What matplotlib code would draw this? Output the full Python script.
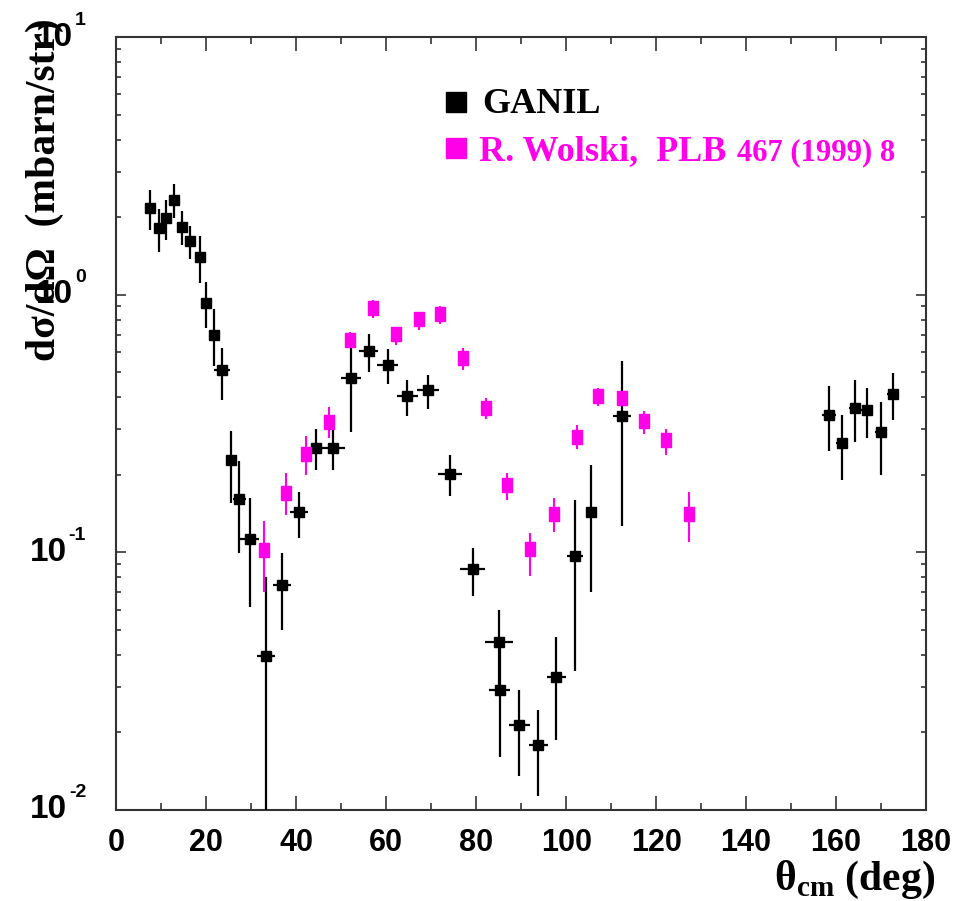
import matplotlib
matplotlib.use("Agg")
import matplotlib.pyplot as plt
import numpy as np
from matplotlib.ticker import FixedLocator, LogLocator, NullFormatter

MAGENTA = "#ff00e8"
SERIF = "Liberation Serif"
NARROW = ["Liberation Sans Narrow", "Liberation Sans"]

plt.rcParams["mathtext.fontset"] = "custom"
plt.rcParams["mathtext.rm"] = "Liberation Serif:bold"

# GANIL data (theta_cm in deg, dsigma/dOmega in mbarn/str)
ganil_theta = [7.5, 9.4, 11.1, 12.9, 14.6, 16.3, 18.5, 20.0, 21.6, 23.5,
               25.5, 27.3, 29.6, 33.3, 36.9, 40.6, 44.4, 48.2, 52.2, 56.1,
               60.3, 64.7, 69.3, 74.1, 79.2, 85.0, 85.2, 89.6, 93.8, 97.8,
               101.9, 105.5, 112.4, 158.4, 161.3, 164.2, 166.9, 169.9, 172.7]
ganil_dtheta = [0.8, 0.8, 0.8, 0.8, 0.8, 0.8, 0.8, 0.8, 0.8, 1.8,
                1.0, 1.5, 2.1, 2.0, 2.0, 2.0, 1.5, 2.7, 2.2, 2.1,
                2.3, 2.3, 2.4, 2.7, 2.8, 3.1, 2.4, 2.3, 2.1, 2.1,
                1.8, 1.0, 1.9, 1.6, 1.4, 1.3, 1.3, 1.3, 1.3]
ganil_xs = [2.17, 1.82, 1.99, 2.33, 1.83, 1.61, 1.40, 0.93, 0.70, 0.51,
            0.229, 0.161, 0.113, 0.0397, 0.075, 0.143, 0.254, 0.254, 0.473, 0.604,
            0.533, 0.404, 0.425, 0.202, 0.0862, 0.0447, 0.0293, 0.0214, 0.0179, 0.0327,
            0.0965, 0.143, 0.337, 0.341, 0.266, 0.363, 0.356, 0.293, 0.412]
ganil_lo = [1.78, 1.47, 1.63, 1.98, 1.56, 1.38, 1.11, 0.74, 0.53, 0.39,
            0.156, 0.099, 0.0615, 0.005, 0.050, 0.114, 0.208, 0.208, 0.294, 0.500,
            0.451, 0.338, 0.361, 0.166, 0.0679, 0.0293, 0.0160, 0.0135, 0.0113, 0.0187,
            0.0347, 0.0701, 0.126, 0.247, 0.191, 0.269, 0.278, 0.200, 0.325]
ganil_hi = [2.54, 2.15, 2.33, 2.69, 2.11, 1.84, 1.69, 1.12, 0.88, 0.62,
            0.297, 0.226, 0.162, 0.080, 0.099, 0.171, 0.302, 0.302, 0.624, 0.701,
            0.613, 0.465, 0.487, 0.238, 0.104, 0.0599, 0.0447, 0.0291, 0.0245, 0.0471,
            0.160, 0.218, 0.552, 0.442, 0.341, 0.465, 0.433, 0.384, 0.498]

# R. Wolski, PLB 467 (1999) 8
wolski_theta = [32.8, 37.8, 42.2, 47.3, 52.0, 57.1, 62.1, 67.3, 72.0, 77.1,
                82.2, 86.9, 92.0, 97.2, 102.3, 107.0, 112.4, 117.4, 122.2, 127.3]
wolski_xs = [0.102, 0.170, 0.240, 0.321, 0.665, 0.891, 0.701, 0.802, 0.844, 0.567,
             0.364, 0.182, 0.103, 0.141, 0.281, 0.403, 0.396, 0.322, 0.272, 0.141]
wolski_lo = [0.070, 0.140, 0.200, 0.278, 0.624, 0.809, 0.636, 0.729, 0.767, 0.509,
             0.330, 0.160, 0.081, 0.120, 0.251, 0.371, 0.371, 0.287, 0.238, 0.110]
wolski_hi = [0.132, 0.203, 0.282, 0.367, 0.714, 0.953, 0.751, 0.859, 0.903, 0.622,
             0.398, 0.203, 0.119, 0.163, 0.311, 0.433, 0.422, 0.353, 0.302, 0.172]

y_decades = [-2, -1, 0, 1]

W, H = 961, 901
fig = plt.figure(figsize=(W / 100, H / 100), dpi=100, facecolor="white")
ax = fig.add_axes([0.1212, 0.1010, 0.8424, 0.8579])

g = np.array(ganil_xs)
ax.errorbar(ganil_theta, g,
            yerr=[g - np.array(ganil_lo), np.array(ganil_hi) - g],
            xerr=ganil_dtheta, fmt="s", color="black", ms=7.6,
            elinewidth=1.6, capsize=0, zorder=3)

w = np.array(wolski_xs)
rect = [(-0.38, -0.5), (0.38, -0.5), (0.38, 0.5), (-0.38, 0.5), (-0.38, -0.5)]
ax.errorbar(wolski_theta, w,
            yerr=[w - np.array(wolski_lo), np.array(wolski_hi) - w],
            fmt="none", ecolor=MAGENTA, elinewidth=1.5, capsize=0, zorder=4)
ax.plot(wolski_theta, w, linestyle="none", marker=rect, ms=10.2,
        color=MAGENTA, mec=MAGENTA, zorder=5)

ax.set_xlim(0, 180)
ax.set_yscale("log")
ax.set_ylim(1e-2, 1e1)

ax.xaxis.set_major_locator(FixedLocator(np.arange(0, 181, 20)))
ax.xaxis.set_minor_locator(FixedLocator(np.arange(10, 180, 20)))
ax.yaxis.set_major_locator(FixedLocator([10.0 ** d for d in y_decades]))
ax.yaxis.set_minor_locator(LogLocator(base=10, subs=np.arange(2, 10), numticks=20))
ax.yaxis.set_major_formatter(NullFormatter())
ax.yaxis.set_minor_formatter(NullFormatter())

ax.tick_params(which="both", direction="in", top=True, right=True,
               color="#222222", width=1.1)
ax.tick_params(axis="x", which="major", length=10, pad=13)
ax.tick_params(axis="x", which="minor", length=5)
ax.tick_params(axis="y", which="major", length=7)
ax.tick_params(axis="y", which="minor", length=3.8)
for lab in ax.get_xticklabels():
    lab.set_family(NARROW)
    lab.set_fontweight("bold")
    lab.set_fontsize(22)
for sp in ax.spines.values():
    sp.set_linewidth(1.5)
    sp.set_color("#333333")

# y tick labels drawn as "10" + raised exponent, right edge ~86 px
renderer = fig.canvas.get_renderer()
x_right = 86 / W
for d in y_decades:
    y_fig = fig.transFigure.inverted().transform(
        ax.transData.transform((0, 10.0 ** d)))[1]
    sup = fig.text(x_right, y_fig + 17 / H, "%d" % d, ha="right", va="center",
                   family=NARROW, fontweight="bold", fontsize=14)
    sw = sup.get_window_extent(renderer).width
    fig.text(x_right - (sw + 2) / W, y_fig, "10", ha="right", va="center",
             family=NARROW, fontweight="bold", fontsize=24)

# axis titles, ROOT style
fig.text(45 / W, 1 - 18 / H, "d\u03c3/d\u03a9  (mbarn/str)", rotation=90,
         ha="center", va="top", family=SERIF, fontweight="bold", fontsize=30)
fig.text(935 / W, 1 - 890 / H, "\u03b8$_{\\mathrm{cm}}$ (deg)",
         ha="right", va="baseline", family=SERIF, fontweight="bold", fontsize=30)

# legend
ax.plot([455.7 / W], [1 - 101.7 / H], marker="s", ms=14.5, color="black",
        transform=fig.transFigure, clip_on=False)
ax.plot([455.7 / W], [1 - 148 / H], marker="s", ms=14.5, color=MAGENTA,
        transform=fig.transFigure, clip_on=False)
fig.text(482 / W, 1 - 112.7 / H, "GANIL", family=SERIF, fontweight="bold",
         fontsize=26, color="black", va="baseline")
fig.text(479 / W, 1 - 160 / H, "R. Wolski,  PLB", family=SERIF, fontweight="bold",
         fontsize=26, color=MAGENTA, va="baseline")
fig.text(737 / W, 1 - 160 / H, "467 (1999) 8", family=SERIF, fontweight="bold",
         fontsize=22, color=MAGENTA, va="baseline")

fig.savefig("out.png", dpi=100, facecolor="white")
